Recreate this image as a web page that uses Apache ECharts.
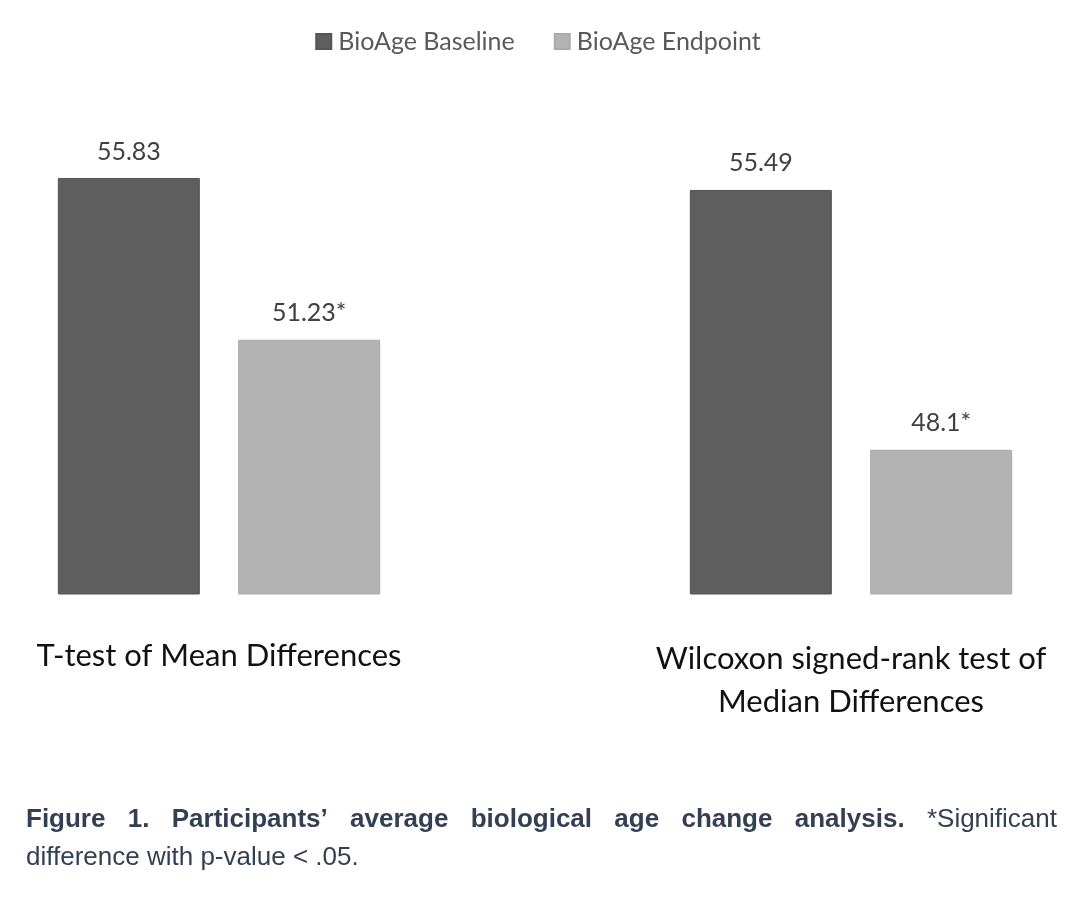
<!DOCTYPE html>
<html>
<head>
<meta charset="utf-8">
<script src="https://cdn.jsdelivr.net/npm/echarts@6/dist/echarts.min.js"></script>
<style>
html,body{margin:0;padding:0;background:#fff;}
#chart{width:1076px;height:898px;}
</style>
</head>
<body>
<div id="chart"></div>
<script>
// ---- data ----
var categories = ['T-test of Mean Differences', 'Wilcoxon signed-rank test of\nMedian Differences'];
var seriesNames = ['BioAge Baseline', 'BioAge Endpoint'];
var baselineValues = [55.83, 55.49];
var endpointValues = [51.23, 48.1];
var endpointSignificant = [true, true];
var captionBold = ['Figure', '1.', 'Participants\u2019', 'average', 'biological', 'age', 'change', 'analysis.'];
var captionLine1Rest = ['*Significant'];
var captionLine2 = 'difference with p-value < .05.';

// ---- styles ----
var colBase = '#5e5e5e', colEnd = '#b3b3b3';
var calibri = 'Lato';
var capFont = '"Liberation Sans", Arial, sans-serif';
var capColor = '#333f52';

var chart = echarts.init(document.getElementById('chart'));

var gridDefs = [{left: 40, width: 358}, {left: 672, width: 358}];
var grids = [], xAxes = [], yAxes = [], series = [];
gridDefs.forEach(function (g, i) {
  grids.push({left: g.left, width: g.width, top: 172, height: 422, containLabel: false});
  xAxes.push({
    type: 'category', gridIndex: i, data: [categories[i]],
    axisLine: {show: false}, axisTick: {show: false},
    axisLabel: {show: true, margin: i === 0 ? 40 : 43, fontFamily: calibri, fontSize: 31, color: '#111', lineHeight: 43, interval: 0}
  });
  yAxes.push({type: 'value', gridIndex: i, min: 44, max: 56, interval: 4, show: false, splitLine: {show: false}});
  series.push({
    name: seriesNames[0], type: 'bar', xAxisIndex: i, yAxisIndex: i,
    data: [baselineValues[i]], barWidth: 142, barGap: '27%',
    itemStyle: {color: colBase, borderColor: '#555', borderWidth: 1},
    label: {show: true, position: 'top', distance: 14, fontFamily: calibri, fontSize: 25, color: '#404040',
      formatter: function (p) { return String(p.value); }}
  });
  series.push({
    name: seriesNames[1], type: 'bar', xAxisIndex: i, yAxisIndex: i,
    data: [endpointValues[i]], barWidth: 142, barGap: '27%',
    itemStyle: {color: colEnd, borderColor: '#aaa', borderWidth: 1},
    label: {show: true, position: 'top', distance: 14, fontFamily: calibri, fontSize: 25, color: '#404040',
      formatter: (function (idx) { return function (p) { return String(p.value) + (endpointSignificant[idx] ? '*' : ''); }; })(i)}
  });
});

// caption layout (justified first line)
var cv = document.createElement('canvas').getContext('2d');
function measure(t, font) { cv.font = font; return cv.measureText(t).width; }
var boldFont = 'bold 26px ' + capFont;
var regFont = '26px ' + capFont;
var words = captionBold.map(function (w) { return {t: w, f: boldFont}; })
  .concat(captionLine1Rest.map(function (w) { return {t: w, f: regFont}; }));
var x0 = 26, x1 = 1057;
var total = 0;
words.forEach(function (w) { w.w = measure(w.t, w.f); total += w.w; });
var gap = (x1 - x0 - total) / (words.length - 1);
var graphics = [];
var cx = x0;
words.forEach(function (w) {
  graphics.push({type: 'text', x: cx, y: 820, style: {text: w.t, font: w.f, fill: capColor, verticalAlign: 'middle'}});
  cx += w.w + gap;
});
graphics.push({type: 'text', x: x0, y: 858, style: {text: captionLine2, font: regFont, fill: capColor, verticalAlign: 'middle'}});

chart.setOption({
  animation: false,
  legend: {
    data: seriesNames, top: 24, left: 'center', icon: 'rect', itemWidth: 15, itemHeight: 15, itemGap: 39,
    textStyle: {fontFamily: calibri, fontSize: 25, color: '#595959', padding: [0, 0, 0, 2]}
  },
  grid: grids, xAxis: xAxes, yAxis: yAxes, series: series,
  graphic: graphics
});
</script>
</body>
</html>
